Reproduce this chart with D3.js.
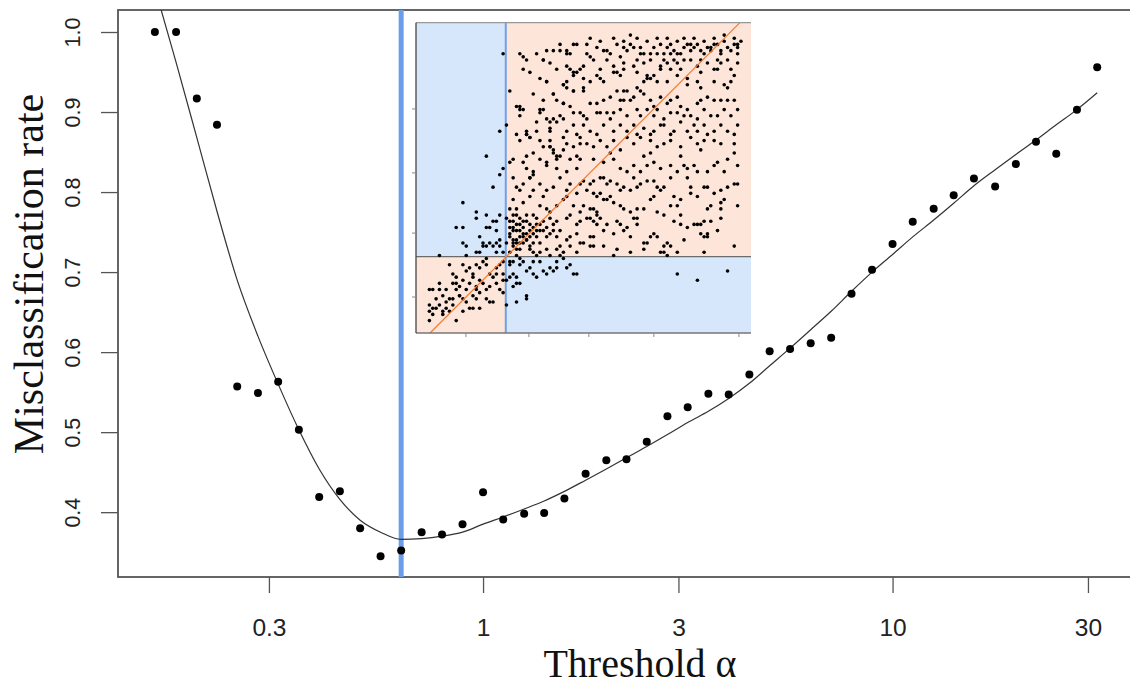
<!DOCTYPE html>
<html>
<head>
<meta charset="utf-8">
<script src="https://cdn.jsdelivr.net/npm/d3@7"></script>
<style>
  html, body { margin: 0; padding: 0; background: #fff; }
  svg { display: block; }
</style>
</head>
<body>
<svg id="chart"></svg>
<script>
// main panel: misclassification rate against threshold alpha (log axis)
var alphas = [0.158, 0.178, 0.200, 0.224, 0.251, 0.282, 0.316, 0.355, 0.398, 0.447, 0.501, 0.562,
  0.631, 0.708, 0.794, 0.891, 1.00, 1.12, 1.26, 1.41, 1.58, 1.78, 2.00, 2.24, 2.51, 2.82, 3.16,
  3.55, 3.98, 4.47, 5.01, 5.62, 6.31, 7.08, 7.94, 8.91, 10.0, 11.2, 12.6, 14.1, 15.8, 17.8, 20.0,
  22.4, 25.1, 28.2, 31.6];
var misclass = [1.000, 1.000, 0.917, 0.884, 0.557, 0.549, 0.563, 0.503, 0.419, 0.426, 0.380, 0.345,
  0.352, 0.375, 0.372, 0.385, 0.425, 0.391, 0.398, 0.399, 0.417, 0.448, 0.465, 0.466, 0.488, 0.520,
  0.531, 0.548, 0.547, 0.572, 0.601, 0.604, 0.611, 0.618, 0.673, 0.703, 0.735, 0.763, 0.779, 0.796,
  0.817, 0.807, 0.835, 0.863, 0.848, 0.903, 0.956];
var smoothFit = [1.055, 0.962, 0.868, 0.776, 0.690, 0.620, 0.560, 0.503, 0.454, 0.416, 0.390, 0.375,
  0.366, 0.367, 0.370, 0.375, 0.385, 0.394, 0.404, 0.414, 0.426, 0.440, 0.454, 0.468, 0.482, 0.497,
  0.512, 0.526, 0.542, 0.561, 0.583, 0.605, 0.628, 0.651, 0.676, 0.700, 0.722, 0.744, 0.765, 0.786,
  0.808, 0.828, 0.847, 0.865, 0.884, 0.903, 0.924];
var chosenAlpha = 0.631;

var xTicks = [0.3, 1, 3, 10, 30];
var xTickLabels = ["0.3", "1", "3", "10", "30"];
var yTicks = [0.4, 0.5, 0.6, 0.7, 0.8, 0.9, 1.0];
var yTickLabels = ["0.4", "0.5", "0.6", "0.7", "0.8", "0.9", "1.0"];

// inset: scatter on a 0-100 grid, split by two cut-offs
var insetCut = [26.8, 24.6];
var insetDiag = [[4.2, 0], [96.7, 100]];
var insetXTicks = [14.9, 33.7, 51.6, 71.0, 96.4];
var insetYTicks = [11.6, 32.2, 51.6, 72.2];
var insetPts = [
  [26,90],[31,90],[32,89],[33,88],[32,85],[28,78],[38,88],[39,91],[40,87],[41,91],[43,93],[45,91],[45,90],[46,90],
  [47,93],[48,93],[47,84],[48,84],[49,85],[45,86],[46,85],[39,81],[41,77],[44,80],[45,81],[47,78],[50,79],[44,74],
  [31,73],[32,72],[31,70],[37,72],[37,71],[41,69],[40,68],[42,68],[43,70],[44,69],[36,68],[47,67],[27,67],[25,65],
  [33,65],[33,64],[34,63],[40,66],[40,65],[44,63],[45,65],[48,64],[49,63],[31,62],[37,62],[38,60],[40,60],[41,59],
  [42,57],[42,56],[43,57],[45,61],[49,61],[21,57],[29,56],[28,55],[33,57],[32,55],[33,53],[35,52],[37,56],[39,55],
  [39,54],[42,53],[45,52],[46,56],[48,57],[48,53],[49,56],[26,53],[25,51],[34,50],[35,51],
  [30,73],[31,72],[33,64],[34,63],[38,72],[40,60],[40,62],[41,58],[39,81],[41,77],[44,80],[45,79],[47,78],[47,83],
  [44,74],[38,88],[43,91],
  [64,96],[51,93],[54,92],[51,90],[52,89],[56,91],[57,91],[58,90],[60,93],[62,94],[62,92],[64,93],[65,92],[67,92],
  [67,90],[68,90],[70,90],[71,92],[72,90],[73,93],[74,90],[75,92],[76,90],[76,93],[77,91],[78,90],[79,90],[80,92],
  [81,93],[82,93],[82,91],[83,92],[84,93],[85,91],[86,90],[87,92],[88,91],[88,92],[89,93],[90,93],[91,91],[91,90],
  [92,94],[93,92],[94,91],[95,93],[96,90],[96,93],[96,92],
  [62,87],[59,86],[59,84],[60,84],[61,83],[62,85],[65,86],[66,84],[68,87],[69,83],[70,82],[71,83],[73,86],[73,85],
  [75,87],[76,85],[78,87],[79,85],[81,82],[82,88],[84,86],[85,84],[87,87],[89,85],[90,85],[91,87],[94,85],[95,83],
  [54,83],[55,82],[56,81],[52,81],[50,82],[68,81],[69,82],[72,81],[75,81],[78,83],[89,81],[92,80],[93,79],[94,81],
  [81,80],[84,81],[85,79],
  [60,78],[62,78],[63,78],[66,79],[67,78],[68,77],[50,78],[54,74],[52,74],[56,75],[58,76],[61,75],[62,75],[64,75],
  [65,76],[70,75],[71,73],[73,76],[75,74],[76,75],[78,76],[79,73],[81,72],[84,74],[85,75],[87,76],[89,75],[91,75],
  [93,75],[95,75],[96,72],[50,70],[51,69],[54,71],[55,71],[57,71],[59,71],[61,72],[63,70],[66,72],[67,70],[69,72],
  [71,70],[72,72],[74,69],[76,71],[78,71],[80,70],[82,70],[84,69],[86,72],[88,70],[90,70],[92,72],[94,70],
  [50,67],[52,65],[54,64],[56,67],[58,69],[59,65],[61,67],[63,65],[65,67],[66,64],[68,66],[70,64],[71,65],[73,67],
  [74,67],[76,64],[77,65],[79,68],[81,65],[83,67],[84,65],[86,67],[87,64],[89,65],[91,67],[93,65],[95,64],[96,67],
  [51,61],[53,60],[55,62],[57,60],[59,62],[61,59],[63,63],[65,61],[67,63],[70,62],[72,60],[74,61],[76,62],[79,60],
  [82,63],[84,61],[86,62],[89,62],[91,61],[95,61],
  [53,56],[56,55],[58,58],[59,56],[61,53],[63,52],[65,54],[67,52],[68,57],[69,54],[70,58],[71,55],[73,53],[76,54],
  [78,52],[79,57],[80,54],[81,53],[83,54],[84,52],[85,59],[87,52],[89,54],[90,55],[92,52],[93,56],[95,58],[96,54],
  [52,95],[55,94],[59,95],[63,91],[66,95],[69,94],[72,95],[75,95],[78,94],[80,95],[83,95],[86,94],[89,95],[92,96],
  [95,95],[97,94],[53,88],[57,88],[61,89],[66,88],[70,88],[74,88],[77,88],[80,88],[85,88],[90,88],[93,88],[96,87],
  [36,90],[34,84],[37,82],[42,85],[35,77],[38,75],[42,75],[46,73],[49,71],[35,58],[44,59],[47,60],[30,64],[36,65],
  [39,69],[47,71],[50,86],[55,85],
  [23,47],[14,42],[18,39],[18,37],[21,38],[23,36],[24,36],[22,34],[21,34],[12,34],[14,34],[25,38],[24,33],[14,29],
  [15,28],[15,25],[7,25],[19,31],[20,29],[20,28],[21,28],[22,29],[23,28],[24,29],[25,30],[25,28],[26,26],[19,26],
  [24,26],[18,26],
  [29,50],[30,47],[31,46],[32,48],[34,50],[35,46],[37,48],[38,44],[39,46],[41,47],[43,50],[45,46],[46,48],[48,45],
  [49,48],[37,41],[39,40],[40,39],[42,41],[44,43],[45,44],[47,41],[49,39],[29,43],[30,40],[32,42],[34,44],[31,37],
  [28,36],[29,34],[30,33],[31,35],[32,32],[33,36],[34,33],[35,32],[36,37],[37,35],[38,33],[28,32],[29,30],[27,29],
  [29,28],[30,29],[32,31],[33,30],[35,29],[36,31],[37,29],[39,31],[40,32],[41,35],[42,36],[43,33],[45,37],[46,38],
  [48,35],[49,36],[42,31],[43,28],[45,30],[46,31],[48,32],[49,29],[39,27],[40,25],[42,27],[43,25],[44,26],[46,28],
  [48,26],[28,26],[30,25],[31,27],[34,28],[35,26],[36,25],[37,26],[27,37],[29,38],[28,40],
  [29,33],[30,35],[31,31],[32,34],[33,32],[34,31],[30,30],[31,29],[33,30],[35,34],[36,33],[28,31],[29,29],
  [28,34],[29,36],[30,38],[31,33],[32,36],[33,38],[34,35],[35,38],[36,35],[37,33],[38,36],[39,34],[40,37],[41,33],
  [30,27],[32,29],[34,27],
  [10,22],[11,19],[14,22],[15,20],[16,21],[17,19],[18,22],[19,21],[20,23],[21,22],[22,19],[23,18],[24,21],[26,23],
  [26,19],[26,17],[24,16],[22,15],[21,14],[20,16],[19,17],[18,15],[17,18],[16,16],[15,14],[14,17],[13,15],[12,14],
  [12,18],[11,16],[9,14],[8,12],[7,16],[7,14],[5,14],[4,14],[6,11],[7,9],[9,10],[10,11],[11,11],[13,12],[14,11],
  [15,10],[17,12],[18,11],[19,13],[21,11],[22,10],[11,9],[10,7],[9,8],[8,7],[6,8],[4,9],[5,8],[4,7],[4,4],[8,6],
  [12,4],[14,7],[17,8],[23,10],[26,13],[25,14],[24,19],[25,22],[12,16],[13,12],[18,14],[16,8],[5,6],[19,8],[21,24],
  [28,23],[29,23],[31,24],[32,23],[34,21],[35,19],[37,23],[38,20],[40,21],[42,23],[44,24],[46,22],[48,19],[29,19],
  [30,18],[28,18],[31,16],[29,15],[27,9],[33,11],[31,22],[33,20],[35,23],[28,22],
  [27,17],[30,16],[33,12],[30,10],[36,18],[39,19],[41,20],[42,21],[45,21],[47,19],
  [50,49],[52,48],[53,49],[55,50],[56,50],[57,48],[58,49],[60,48],[61,46],[62,47],[64,46],[65,50],[66,47],[67,48],
  [69,49],[71,49],[72,47],[73,46],[74,47],[76,50],[77,44],[79,43],[81,50],[82,47],[82,45],[84,44],[86,47],[87,47],
  [88,41],[87,40],[89,45],[91,46],[92,43],[93,47],[95,48],[96,48],[96,41],[91,42],[91,40],
  [51,46],[53,45],[54,44],[55,45],[56,43],[57,43],[58,44],[59,42],[61,41],[62,40],[64,39],[66,40],[68,40],[70,43],
  [71,44],[72,39],[74,38],[76,41],[78,41],[79,38],[77,36],[79,35],[81,34],[84,35],[85,35],[86,36],[88,36],[90,33],
  [91,37],
  [50,41],[52,40],[53,40],[54,39],[54,38],[52,37],[51,37],[53,36],[54,35],[55,37],[56,33],[57,35],[59,32],[60,36],
  [61,35],[62,33],[63,34],[64,31],[65,37],[66,35],[66,37],[70,31],[69,29],[68,27],[71,32],[72,31],[74,28],[74,26],
  [75,25],[73,26],[75,29],[76,28],[78,26],[80,30],[85,32],[86,31],[87,31],[87,32],[86,26],[83,35],[52,28],[53,28],
  [56,28],[60,27],[64,26],[68,29],[59,25],[52,31],[53,31],[50,29],[95,28],
  [78,19],[84,17],[93,20]
];

var width = 1130, height = 685;
var plotL = 118, plotR = 1132, plotT = 10, plotB = 577;

var svg = d3.select("#chart")
    .attr("width", width)
    .attr("height", height);

var x = d3.scaleLog().domain([0.1284, 38.0]).range([118, 1130]);
var y = d3.scaleLinear().domain([0.319, 1.0275]).range([plotB, plotT]);

svg.append("clipPath").attr("id", "plotClip")
  .append("rect")
    .attr("x", plotL).attr("y", plotT)
    .attr("width", plotR - plotL).attr("height", plotB - plotT);

// axes
var xAxis = svg.append("g")
    .attr("transform", "translate(0," + plotB + ")")
    .call(d3.axisBottom(x).tickValues(xTicks)
      .tickFormat(function(d, i) { return xTickLabels[i]; })
      .tickSize(16));
xAxis.select(".domain").remove();
xAxis.selectAll("line").attr("stroke", "#555").attr("stroke-width", 1.3);
xAxis.selectAll("text")
    .attr("y", 59).attr("dy", null)
    .attr("fill", "#222")
    .style("font-family", "'Liberation Sans', Arial, Helvetica, sans-serif")
    .style("font-size", "24.5px");

var yAxis = svg.append("g")
    .attr("transform", "translate(" + plotL + ",0)")
    .call(d3.axisLeft(y).tickValues(yTicks)
      .tickFormat(function(d, i) { return yTickLabels[i]; })
      .tickSize(17));
yAxis.select(".domain").remove();
yAxis.selectAll("line").attr("stroke", "#555").attr("stroke-width", 1.3);
yAxis.selectAll("text")
    .attr("x", 0).attr("y", -38).attr("dy", null)
    .attr("transform", "rotate(-90)")
    .attr("text-anchor", "middle")
    .attr("fill", "#222")
    .style("font-family", "'Liberation Sans', Arial, Helvetica, sans-serif")
    .style("font-size", "21.5px");

// frame
svg.append("rect")
    .attr("x", plotL).attr("y", plotT)
    .attr("width", plotR - plotL).attr("height", plotB - plotT)
    .attr("fill", "none")
    .attr("stroke", "#555")
    .attr("stroke-width", 1.8);

// chosen threshold
svg.append("line")
    .attr("x1", x(chosenAlpha)).attr("x2", x(chosenAlpha))
    .attr("y1", plotT).attr("y2", plotB)
    .attr("stroke", "#6c9de9")
    .attr("stroke-width", 5);

// fitted curve
var fitData = alphas.map(function(a, i) { return [a, smoothFit[i]]; });
svg.append("path")
    .datum(fitData)
    .attr("clip-path", "url(#plotClip)")
    .attr("fill", "none")
    .attr("stroke", "#333")
    .attr("stroke-width", 1.2)
    .attr("d", d3.line()
      .curve(d3.curveMonotoneX)
      .x(function(d) { return x(d[0]); })
      .y(function(d) { return y(d[1]); }));

// points
svg.append("g")
  .selectAll("circle")
  .data(alphas)
  .enter().append("circle")
    .attr("cx", function(d) { return x(d); })
    .attr("cy", function(d, i) { return y(misclass[i]); })
    .attr("r", 4)
    .attr("fill", "#000");

// inset
var ix = d3.scaleLinear().domain([0, 100]).range([416, 751]);
var iy = d3.scaleLinear().domain([0, 100]).range([333, 22.7]);
var inset = svg.append("g");

var quads = [
  {x0: 0, x1: insetCut[0], y0: 0, y1: insetCut[1], fill: "#fde6d9"},
  {x0: insetCut[0], x1: 100, y0: insetCut[1], y1: 100, fill: "#fde6d9"},
  {x0: 0, x1: insetCut[0], y0: insetCut[1], y1: 100, fill: "#d6e6fb"},
  {x0: insetCut[0], x1: 100, y0: 0, y1: insetCut[1], fill: "#d6e6fb"}
];
inset.selectAll("rect.quad")
  .data(quads)
  .enter().append("rect")
    .attr("class", "quad")
    .attr("x", function(d) { return ix(d.x0); })
    .attr("y", function(d) { return iy(d.y1); })
    .attr("width", function(d) { return ix(d.x1) - ix(d.x0); })
    .attr("height", function(d) { return iy(d.y0) - iy(d.y1); })
    .attr("fill", function(d) { return d.fill; });

inset.append("line")
    .attr("x1", ix(0)).attr("x2", ix(100))
    .attr("y1", iy(insetCut[1])).attr("y2", iy(insetCut[1]))
    .attr("stroke", "#6b6b6b").attr("stroke-width", 1.3);
inset.append("line")
    .attr("x1", ix(insetCut[0])).attr("x2", ix(insetCut[0]))
    .attr("y1", iy(0)).attr("y2", iy(100))
    .attr("stroke", "#6fa0e8").attr("stroke-width", 2);

inset.append("g")
  .selectAll("circle")
  .data(insetPts)
  .enter().append("circle")
    .attr("cx", function(d) { return ix(d[0]); })
    .attr("cy", function(d) { return iy(d[1]); })
    .attr("r", 1.8)
    .attr("fill", "#000");

inset.append("line")
    .attr("x1", ix(insetDiag[0][0])).attr("y1", iy(insetDiag[0][1]))
    .attr("x2", ix(insetDiag[1][0])).attr("y2", iy(insetDiag[1][1]))
    .attr("stroke", "#f27a36").attr("stroke-width", 1.2);

// inset frame and ticks
inset.append("line")
    .attr("x1", ix(0)).attr("x2", ix(100)).attr("y1", iy(100)).attr("y2", iy(100))
    .attr("stroke", "#999").attr("stroke-width", 1.3);
inset.append("line")
    .attr("x1", ix(0)).attr("x2", ix(100)).attr("y1", iy(0)).attr("y2", iy(0))
    .attr("stroke", "#777").attr("stroke-width", 1.3);
inset.append("line")
    .attr("x1", ix(0)).attr("x2", ix(0)).attr("y1", iy(0)).attr("y2", iy(100))
    .attr("stroke", "#444").attr("stroke-width", 1.3);

inset.selectAll("line.xt")
  .data(insetXTicks)
  .enter().append("line")
    .attr("class", "xt")
    .attr("x1", function(d) { return ix(d); }).attr("x2", function(d) { return ix(d); })
    .attr("y1", iy(0)).attr("y2", iy(0) + 4)
    .attr("stroke", "#888").attr("stroke-width", 1);
inset.selectAll("line.yt")
  .data(insetYTicks)
  .enter().append("line")
    .attr("class", "yt")
    .attr("x1", ix(0) - 4).attr("x2", ix(0))
    .attr("y1", function(d) { return iy(d); }).attr("y2", function(d) { return iy(d); })
    .attr("stroke", "#888").attr("stroke-width", 1);

// titles
svg.append("text")
    .attr("x", 640).attr("y", 677)
    .attr("text-anchor", "middle")
    .attr("fill", "#111")
    .style("font-family", "'Liberation Serif', 'Times New Roman', Times, serif")
    .style("font-size", "40px")
    .text("Threshold α");

svg.append("text")
    .attr("transform", "translate(43,274) rotate(-90)")
    .attr("text-anchor", "middle")
    .attr("fill", "#111")
    .style("font-family", "'Liberation Serif', 'Times New Roman', Times, serif")
    .style("font-size", "42px")
    .text("Misclassification rate");
</script>
</body>
</html>
